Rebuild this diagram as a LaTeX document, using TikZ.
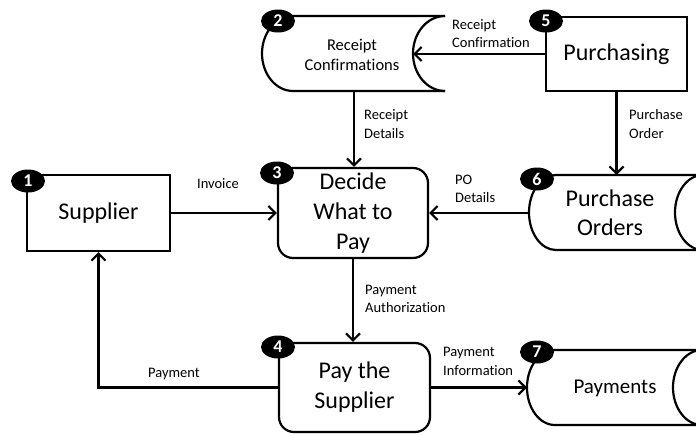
\documentclass[tikz,border=0pt]{standalone}
\usepackage{fontspec}
\setmainfont{Carlito}[Ligatures=NoCommon]
\usetikzlibrary{arrows.meta,shapes.geometric}
\tikzset{
  lw/.style={line width=2.2pt},
  ent/.style={draw, lw, rectangle, font=\fontsize{24}{30}\selectfont, align=center, inner sep=0pt},
  proc/.style={draw, lw, rectangle, rounded corners=15pt, font=\fontsize{24}{30}\selectfont, align=center, inner sep=0pt},
  storetext/.style={font=\fontsize{24}{29}\selectfont, align=center, inner sep=0pt},
  storeline/.style={lw, line join=round},
  lbl/.style={font=\fontsize{14.5}{18.5}\selectfont, align=left, inner sep=0pt, anchor=west},
  flow/.style={lw, -{Straight Barb[length=7pt,width=14pt,line width=2.2pt]}},
  badge/.style={ellipse, fill=black, text=white, font=\bfseries\fontsize{18}{18}\selectfont,
    minimum width=34pt, minimum height=23pt, inner sep=0pt}
}
\begin{document}
\begin{tikzpicture}[x=1pt,y=-1pt]
\useasboundingbox (0,0) rectangle (696,434);
\clip (0,0) rectangle (696,434);

% entities and processes
\node[ent, minimum width=143pt, minimum height=76pt] (sup) at (98.5,213) {Supplier};
\node[proc, minimum width=150pt, minimum height=90pt] (dec) at (353,213) {Decide\\What to\\Pay};
\node[proc, minimum width=151pt, minimum height=89pt] (pay) at (354.5,387.5) {Pay the\\Supplier};
\node[ent, minimum width=141pt, minimum height=74pt] (pur) at (616.5,54) {Purchasing};

% data store: Receipt Confirmations
\draw[storeline] (445,16) -- (293,16)
  .. controls (275.9,16) and (262,32.8) .. (262,53.5)
  .. controls (262,74.2) and (275.9,91) .. (293,91) -- (445,91);
\draw[storeline] (445,16) .. controls (427.3,16) and (413,32.8) .. (413,53.5)
  .. controls (413,74.2) and (427.3,91) .. (445,91);
\node[storetext, font=\fontsize{16.5}{20}\selectfont] (rc) at (352,55) {Receipt\\Confirmations};
\coordinate (rcIn) at (413,54);
\coordinate (rcOut) at (354,91);

% data store: Purchase Orders
\draw[storeline] (710,175) -- (556,175)
  .. controls (541.1,175) and (529,191.8) .. (529,212.5)
  .. controls (529,233.2) and (541.1,250) .. (556,250) -- (710,250);
\draw[storeline] (703,175) .. controls (687.5,175) and (675,191.8) .. (675,212.5)
  .. controls (675,233.2) and (687.5,250) .. (703,250);
\node[storetext] (po) at (610,213) {Purchase\\Orders};
\coordinate (poTop) at (616.5,175);
\coordinate (poL) at (529,213);

% data store: Payments
\draw[storeline] (710,350) -- (555,350)
  .. controls (539.5,350) and (527,366.8) .. (527,387.5)
  .. controls (527,408.2) and (539.5,425) .. (555,425) -- (710,425);
\draw[storeline] (702,350) .. controls (686,350) and (673,366.8) .. (673,387.5)
  .. controls (673,408.2) and (686,425) .. (702,425);
\node[storetext, font=\fontsize{21}{26}\selectfont] (pm) at (615,388) {Payments};
\coordinate (pmL) at (527,387.5);

% flows
\draw[flow] (pur.west |- rcIn) -- (rcIn);
\draw[flow] (rcOut) -- (rcOut |- dec.north);
\draw[flow] (pur.south) -- (poTop);
\draw[flow] (poL) -- (dec.east);
\draw[flow] (sup.east) -- (dec.west);
\draw[flow] (dec.south) -- (dec.south |- pay.north);
\draw[flow] (pay.west) -- (sup.south |- pay.west) -- (sup.south);
\draw[flow] (pay.east) -- (pmL);

% flow labels
\node[lbl] (l1) at (452,33.5) {Receipt\\Confirmation};
\node[lbl] (l2) at (364,124) {Receipt\\Details};
\node[lbl] (l3) at (629,124) {Purchase\\Order};
\node[lbl] (l4) at (455,189) {PO\\Details};
\node[lbl, anchor=center] (l5) at (218,184) {Invoice};
\node[lbl] (l6) at (365,299) {Payment\\Authorization};
\node[lbl, anchor=center] (l7) at (174,374) {Payment};
\node[lbl] (l8) at (443,361.5) {Payment\\Information};

% badges
\node[badge] (b1) at (28,181) {1};
\node[badge] (b2) at (278,21) {2};
\node[badge] (b3) at (277,173) {3};
\node[badge] (b4) at (278,347) {4};
\node[badge] (b5) at (546,21) {5};
\node[badge] (b6) at (537,179) {6};
\node[badge] (b7) at (537,352) {7};
\end{tikzpicture}
\end{document}
